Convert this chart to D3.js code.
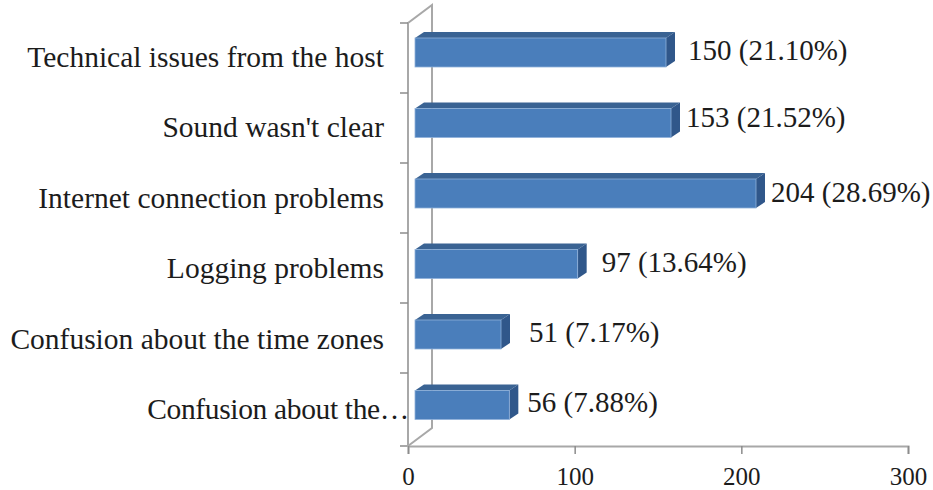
<!DOCTYPE html>
<html>
<head>
<meta charset="utf-8">
<script src="https://cdn.jsdelivr.net/npm/d3@7"></script>
<style>
  body { margin: 0; background: #fff; }
  text { font-family: "Liberation Serif", serif; fill: #1c1c1c; }
</style>
</head>
<body>
<div class="canvas"></div>
<script>
// bottom to top, same order as the bars on the chart
const categories = ['Confusion about the…', 'Confusion about the time zones', 'Logging problems',
  'Internet connection problems', "Sound wasn't clear", 'Technical issues from the host'];
const counts = [56, 51, 97, 204, 153, 150];
const percents = ['7.88%', '7.17%', '13.64%', '28.69%', '21.52%', '21.10%'];
const ticks = [0, 100, 200, 300];

// labels were hand placed on the original so they don't sit on a regular offset
const labelDx = [26, 36, 32, 23, 23, 30];
const labelDy = [1, 2, 2, 3, -2, 2];

const dims = { width: 933, height: 490 };
const plot = { left: 408, right: 908, top: 23, bottom: 446 };
const wallDepth = { x: 24, y: 18 };
const barDepth = { x: 9, y: 6 };
const barHeight = 29;
const grey = '#a8a8a8';

const svg = d3.select('.canvas')
  .append('svg')
  .attr('width', dims.width)
  .attr('height', dims.height)
  .style('display', 'block');

const x = d3.scaleLinear().domain([0, 300]).range([plot.left, plot.right]);
const y = d3.scaleBand().domain(d3.range(categories.length)).range([plot.bottom, plot.top]);
const yTick = d3.scaleLinear().domain([0, 6]).range([443, plot.top]);

// side wall
svg.append('path')
  .attr('fill', 'none')
  .attr('stroke', grey)
  .attr('stroke-width', 2)
  .attr('d', `M${plot.left},${plot.bottom} L${plot.left},${plot.top}
    L${plot.left + wallDepth.x},${plot.top - wallDepth.y}
    L${plot.left + wallDepth.x},${plot.bottom - wallDepth.y}
    L${plot.left},${plot.bottom}`);

// x axis
const xAxis = svg.append('g')
  .attr('transform', `translate(0, ${plot.bottom})`)
  .call(d3.axisBottom(x).tickValues(ticks).tickSize(8).tickPadding(13));

xAxis.select('.domain').attr('stroke', grey).attr('stroke-width', 2);
xAxis.selectAll('line').attr('stroke', '#8c8c8c').attr('stroke-width', 1.5);
xAxis.selectAll('text').attr('font-size', 25).attr('font-family', '"Liberation Serif", serif');

// category ticks
svg.selectAll('.ytick')
  .data(d3.range(1, categories.length + 1))
  .enter().append('line')
    .attr('class', 'ytick')
    .attr('x1', plot.left - 8).attr('x2', plot.left)
    .attr('y1', d => yTick(d))
    .attr('y2', d => yTick(d))
    .attr('stroke', '#8c8c8c')
    .attr('stroke-width', 1.5);

svg.append('line')
  .attr('x1', plot.left - 8).attr('x2', plot.left)
  .attr('y1', plot.bottom).attr('y2', plot.bottom)
  .attr('stroke', grey)
  .attr('stroke-width', 2);

// category labels, the cut off one runs on up to the wall
svg.selectAll('.cat')
  .data(categories)
  .enter().append('text')
    .attr('class', 'cat')
    .attr('x', d => d.endsWith('…') ? 409 : 384)
    .attr('y', (d, i) => y(i) + y.step() / 2 + 8.5)
    .attr('text-anchor', 'end')
    .attr('font-size', 29.5)
    .attr('letter-spacing', d => d.endsWith('…') ? -0.35 : 0)
    .text(d => d);

// bars
const barLeft = plot.left + 7;
const barW = d => x(d) + 8 - barLeft;

const bars = svg.selectAll('.bar')
  .data(counts)
  .enter().append('g')
    .attr('class', 'bar')
    .attr('transform', (d, i) => `translate(${barLeft}, ${y(i) + 15})`);

// top face
bars.append('path')
  .attr('fill', '#3a6393')
  .attr('d', d => `M0,0 L${barDepth.x},${-barDepth.y} H${barW(d) + barDepth.x} L${barW(d)},0 Z`);

// end cap
bars.append('path')
  .attr('fill', '#30578a')
  .attr('d', d => `M${barW(d)},0 l${barDepth.x},${-barDepth.y} v${barHeight} l${-barDepth.x},${barDepth.y} Z`);

// front face
bars.append('rect')
  .attr('fill', '#4a7ebb')
  .attr('stroke', '#8fb1da')
  .attr('stroke-width', 0.8)
  .attr('width', d => barW(d))
  .attr('height', barHeight);

// value labels
svg.selectAll('.val')
  .data(counts)
  .enter().append('text')
    .attr('class', 'val')
    .attr('x', (d, i) => x(d) + labelDx[i])
    .attr('y', (d, i) => y(i) + y.step() / 2 + labelDy[i])
    .attr('font-size', 29)
    .text((d, i) => `${d} (${percents[i]})`);
</script>
</body>
</html>
